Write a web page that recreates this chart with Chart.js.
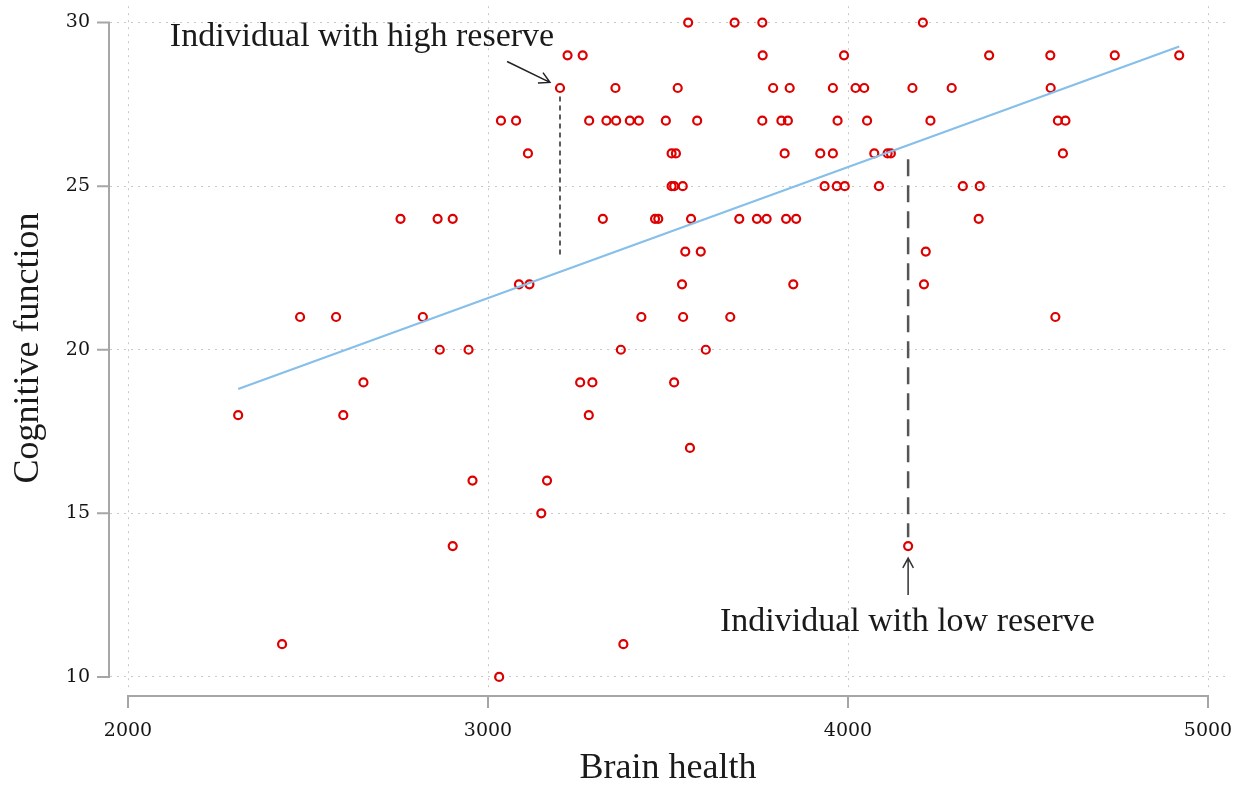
<!DOCTYPE html>
<html>
<head>
<meta charset="utf-8">
<script src="https://cdn.jsdelivr.net/npm/chart.js@4/dist/chart.umd.min.js"></script>
<style>
  html, body { margin: 0; padding: 0; background: #ffffff; }
  #wrap { width: 1254px; height: 790px; position: relative; }
</style>
</head>
<body>
<div id="wrap"><canvas id="c" width="1254" height="790"></canvas></div>
<script>
// ---- data ----
const brainHealth = [
  3556, 3685, 3762, 4208,
  3221, 3263, 3763, 3989, 4392, 4562, 4741, 4920,
  3200, 3354, 3527, 3792, 3838, 3958, 4021, 4045, 4179, 4288, 4563,
  3036, 3078, 3281, 3329, 3356, 3394, 3419, 3494, 3581, 3762, 3815, 3833, 3971, 4053, 4229, 4583, 4604,
  3111, 3510, 3522, 3824, 3923, 3958, 4073, 4110, 4119, 4597,
  3510, 3517, 3541, 3935, 3969, 3991, 4086, 4319, 4366,
  2757, 2860, 2902, 3319, 3464, 3473, 3564, 3698, 3747, 3774, 3828, 3856, 4363,
  3548, 3591, 4216,
  3086, 3115, 3539, 3848, 4211,
  2478, 2578, 2819, 3426, 3542, 3673, 4576,
  2866, 2946, 3369, 3605,
  2654, 3256, 3290, 3517,
  2306, 2598, 3280,
  3561,
  2957, 3164,
  3148,
  2902, 4167,
  2428, 3376,
  3031
];
const cognitive = [
  30, 30, 30, 30,
  29, 29, 29, 29, 29, 29, 29, 29,
  28, 28, 28, 28, 28, 28, 28, 28, 28, 28, 28,
  27, 27, 27, 27, 27, 27, 27, 27, 27, 27, 27, 27, 27, 27, 27, 27, 27,
  26, 26, 26, 26, 26, 26, 26, 26, 26, 26,
  25, 25, 25, 25, 25, 25, 25, 25, 25,
  24, 24, 24, 24, 24, 24, 24, 24, 24, 24, 24, 24, 24,
  23, 23, 23,
  22, 22, 22, 22, 22,
  21, 21, 21, 21, 21, 21, 21,
  20, 20, 20, 20,
  19, 19, 19, 19,
  18, 18, 18,
  17,
  16, 16,
  15,
  14, 14,
  11, 11,
  10
];
// fitted line end points
const fitX = [2306, 4920];
const fitY = [18.80, 29.27];
// guide lines
const highGuideX = [3200, 3200];
const highGuideY = [27.74, 22.80];
const lowGuideX = [4167, 4167];
const lowGuideY = [25.82, 14.27];
// annotations (data coordinates)
const highLabel = { text: 'Individual with high reserve', x: 2650, y: 29.27 };
const lowLabel = { text: 'Individual with low reserve', x: 4165, y: 11.40 };
const highArrow = { x0: 3053, y0: 28.81, x1: 3172, y1: 28.17 };
const lowArrow = { x0: 4167, y0: 12.50, x1: 4167, y1: 13.63 };
// ticks
const xTicks = [2000, 3000, 4000, 5000];
const yTicks = [10, 15, 20, 25, 30];
const xTitle = 'Brain health';
const yTitle = 'Cognitive function';

const scatterPts = brainHealth.map((v, i) => ({ x: v, y: cognitive[i] }));
const toXY = (xs, ys) => xs.map((v, i) => ({ x: v, y: ys[i] }));

const serif = '"Liberation Serif", "Times New Roman", serif';
const tickFont = '"DejaVu Serif", serif';

function arrow(ctx, x0, y0, x1, y1, head) {
  const a = Math.atan2(y1 - y0, x1 - x0);
  ctx.beginPath();
  ctx.moveTo(x0, y0);
  ctx.lineTo(x1, y1);
  ctx.moveTo(x1 - head * Math.cos(a - 0.5), y1 - head * Math.sin(a - 0.5));
  ctx.lineTo(x1, y1);
  ctx.lineTo(x1 - head * Math.cos(a + 0.5), y1 - head * Math.sin(a + 0.5));
  ctx.stroke();
}

const stataAxes = {
  id: 'stataAxes',
  afterDraw(chart) {
    const ctx = chart.ctx;
    const xs = chart.scales.x, ys = chart.scales.y;
    const ca = chart.chartArea;
    ctx.save();
    ctx.strokeStyle = '#a6a6a6';
    ctx.lineWidth = 2;
    ctx.setLineDash([]);
    // y axis
    const ax = ca.left - 1;
    ctx.beginPath();
    ctx.moveTo(ax, ys.getPixelForValue(yTicks[yTicks.length - 1]) - 1);
    ctx.lineTo(ax, ys.getPixelForValue(yTicks[0]) + 1);
    yTicks.forEach(v => {
      const p = ys.getPixelForValue(v);
      ctx.moveTo(ax - 12, p);
      ctx.lineTo(ax, p);
    });
    ctx.stroke();
    // x axis
    const ay = ca.bottom + 6;
    ctx.beginPath();
    ctx.moveTo(xs.getPixelForValue(xTicks[0]) - 1, ay);
    ctx.lineTo(xs.getPixelForValue(xTicks[xTicks.length - 1]) + 1, ay);
    xTicks.forEach(v => {
      const p = xs.getPixelForValue(v);
      ctx.moveTo(p, ay);
      ctx.lineTo(p, ay + 12);
    });
    ctx.stroke();

    // annotations
    ctx.fillStyle = '#1a1a1a';
    ctx.font = '34px ' + serif;
    ctx.textAlign = 'center';
    ctx.textBaseline = 'alphabetic';
    ctx.fillText(highLabel.text, xs.getPixelForValue(highLabel.x), ys.getPixelForValue(highLabel.y));
    ctx.fillText(lowLabel.text, xs.getPixelForValue(lowLabel.x), ys.getPixelForValue(lowLabel.y));

    ctx.strokeStyle = '#222';
    ctx.lineWidth = 1.5;
    arrow(ctx, xs.getPixelForValue(highArrow.x0), ys.getPixelForValue(highArrow.y0),
      xs.getPixelForValue(highArrow.x1), ys.getPixelForValue(highArrow.y1), 12);
    ctx.strokeStyle = '#333';
    arrow(ctx, xs.getPixelForValue(lowArrow.x0), ys.getPixelForValue(lowArrow.y0),
      xs.getPixelForValue(lowArrow.x1), ys.getPixelForValue(lowArrow.y1), 11);
    ctx.restore();
  }
};

new Chart(document.getElementById('c'), {
  type: 'scatter',
  data: {
    datasets: [
      {
        type: 'line', label: 'Fit', data: toXY(fitX, fitY),
        borderColor: '#86bfea', borderWidth: 2.2, pointRadius: 0, fill: false, tension: 0
      },
      {
        label: 'Observations', data: scatterPts,
        pointStyle: 'circle', pointRadius: 4, pointBorderWidth: 2.2,
        pointBorderColor: '#dd0000', pointBackgroundColor: 'rgba(255,255,255,0)',
        borderColor: '#dd0000', backgroundColor: 'rgba(255,255,255,0)', showLine: false
      },
      {
        type: 'line', label: 'High guide', data: toXY(highGuideX, highGuideY),
        borderColor: '#333333', borderWidth: 1.6, borderDash: [5, 4], pointRadius: 0, fill: false
      },
      {
        type: 'line', label: 'Low guide', data: toXY(lowGuideX, lowGuideY),
        borderColor: '#555555', borderWidth: 2.5, borderDash: [17, 9], pointRadius: 0, fill: false
      }
    ]
  },
  options: {
    responsive: false,
    animation: false,
    events: [],
    layout: { padding: { top: 5, right: 28, bottom: 0, left: 0 } },
    plugins: { legend: { display: false }, tooltip: { enabled: false } },
    scales: {
      x: {
        type: 'linear', min: 1950, max: 5050,
        afterFit(s) { s.height = 100; s.paddingLeft = 0; s.paddingRight = 0; },
        afterBuildTicks(s) { s.ticks = xTicks.map(v => ({ value: v })); },
        border: { display: false, dash: [2, 5] },
        grid: { color: '#c8c8c8', lineWidth: 1, drawTicks: false },
        ticks: { color: '#141414', font: { family: tickFont, size: 19 }, padding: 30, maxRotation: 0, autoSkip: false,
                 callback: v => String(v) },
        title: { display: true, text: xTitle, color: '#1a1a1a', font: { family: serif, size: 36 }, padding: { top: 0, bottom: 0 } }
      },
      y: {
        type: 'linear', min: 9.6, max: 30.5,
        afterFit(s) { s.width = 110; s.paddingTop = 0; s.paddingBottom = 0; },
        afterBuildTicks(s) { s.ticks = yTicks.map(v => ({ value: v })); },
        border: { display: false, dash: [2, 5] },
        grid: { color: '#c8c8c8', lineWidth: 1, drawTicks: false },
        ticks: { color: '#141414', font: { family: tickFont, size: 19 }, padding: 20, autoSkip: false,
                 callback: v => String(v) },
        title: { display: true, text: yTitle, color: '#1a1a1a', font: { family: serif, size: 36 }, padding: { top: 7, bottom: 0 } }
      }
    }
  },
  plugins: [stataAxes]
});
</script>
</body>
</html>
